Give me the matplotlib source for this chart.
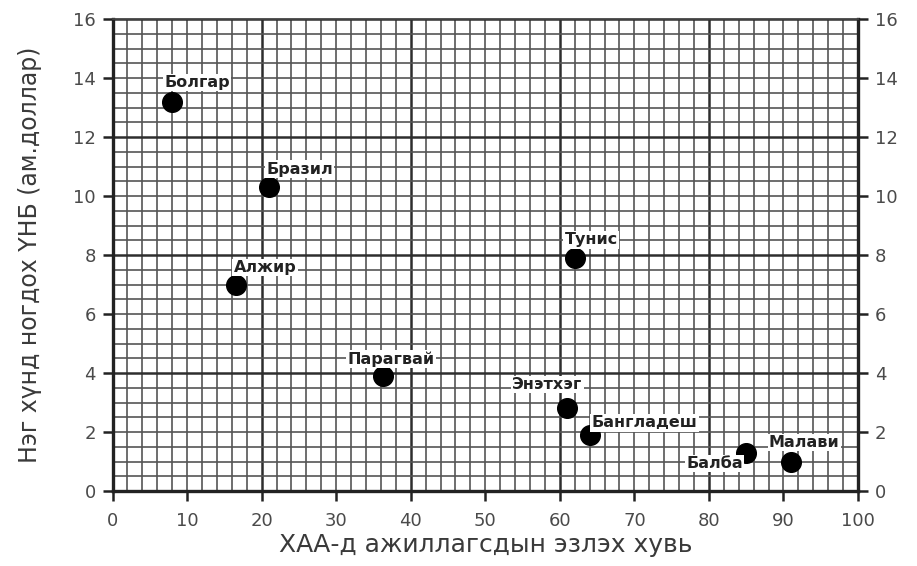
import numpy as np
import matplotlib
matplotlib.use("Agg")
from matplotlib import pyplot as plt

# улсууд ба утгууд (зургаас уншсан)
countries = ["Болгар", "Бразил", "Алжир", "Тунис", "Парагвай",
             "Энэтхэг", "Бангладеш", "Балба", "Малави"]
agri_share = [8, 21, 16.5, 62, 36.3, 61, 64, 85, 91]
gnp_per_capita = [13.2, 10.3, 7.0, 7.9, 3.9, 2.8, 1.9, 1.3, 1.0]

x_ticks = list(range(0, 101, 10))
y_ticks = list(range(0, 17, 2))

# шошгоны байрлал: (dx, dy пикселээр, зэрэгцүүлэлт)
label_offsets = {
    "Болгар": (-8, 19, "left"),
    "Бразил": (-3, 18, "left"),
    "Алжир": (-2, 17, "left"),
    "Тунис": (-10, 18, "left"),
    "Парагвай": (8, 17, "center"),
    "Энэтхэг": (15, 24, "right"),
    "Бангладеш": (2, 12, "left"),
    "Балба": (-3, -11, "right"),
    "Малави": (-22, 19, "left"),
}

txt = "#3a3a3a"
plt.rcParams['font.family'] = ['DejaVu Sans']

fig = plt.figure(figsize=(9.17, 5.66), dpi=100)
ax = fig.add_axes([0.1227, 0.1325, 0.8130, 0.8339])

ax.set_xlim(0, 100)
ax.set_ylim(0, 16)

# миллиметрийн цаас шиг тор
for xv in np.arange(0, 101, 2):
    major = xv % 20 == 0
    ax.axvline(xv, color="#2e2e2e" if major else "#555555",
               lw=1.8 if major else 1.2, zorder=0)
for yv in np.arange(0, 16.01, 0.5):
    major = yv % 4 == 0
    ax.axhline(yv, color="#2e2e2e" if major else "#555555",
               lw=1.8 if major else 1.2, zorder=0)

ax.scatter(agri_share, gnp_per_capita, s=200, color="black", zorder=3)

for name, xv, yv in zip(countries, agri_share, gnp_per_capita):
    dx, dy, ha = label_offsets[name]
    ax.annotate(name, (xv, yv), xytext=(dx, dy), textcoords="offset pixels",
                ha=ha, va="center", fontsize=11.5, fontweight="bold", color="#222222",
                bbox=dict(boxstyle="square,pad=0.08", fc="white", ec="none"),
                zorder=4)

ax.set_xticks(x_ticks)
ax.set_yticks(y_ticks)
ax.tick_params(axis="both", direction="out", length=7, width=1.8,
               labelsize=13, labelcolor="#4a4a4a", color="#222222")
ax.tick_params(axis="x", pad=8)
ax.tick_params(axis="y", pad=5, right=True, labelright=True)

for side in ["left", "bottom", "right"]:
    ax.spines[side].set_linewidth(2.4)
    ax.spines[side].set_color("#222222")
ax.spines["top"].set_linewidth(1.3)
ax.spines["top"].set_color("#444444")

ax.set_xlabel("ХАА-д ажиллагсдын эзлэх хувь", fontsize=18, color=txt, labelpad=2)
ax.set_ylabel("Нэг хүнд ногдох ҮНБ (ам.доллар)", fontsize=17, color=txt, labelpad=22)

fig.savefig("out.png", dpi=100)
